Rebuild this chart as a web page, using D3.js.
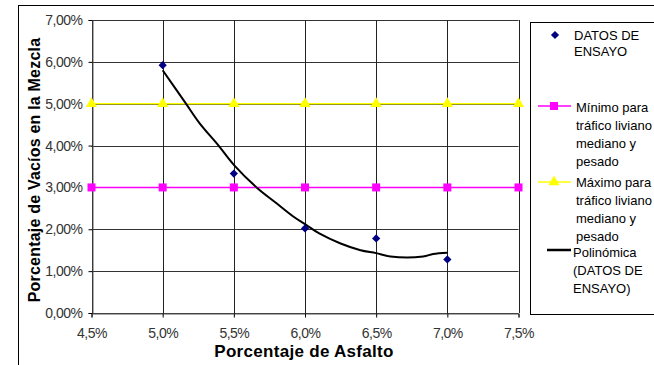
<!DOCTYPE html>
<html><head><meta charset="utf-8">
<script src="https://cdn.jsdelivr.net/npm/d3@7"></script>
<style>body{margin:0;background:#fff}svg{display:block;font-family:"Liberation Sans",Arial,sans-serif}</style>
</head><body><svg id="c" width="654" height="365"></svg>
<script>
const xTicks = [4.5,5.0,5.5,6.0,6.5,7.0,7.5];
const yTicks = [0,1,2,3,4,5,6,7];
const ensayoX = [5.0,5.5,6.0,6.5,7.0];
const ensayoY = [5.92,3.33,2.02,1.78,1.28];
const minimoX = [4.5,5.0,5.5,6.0,6.5,7.0,7.5];
const minimoY = [3,3,3,3,3,3,3];
const maximoX = [4.5,5.0,5.5,6.0,6.5,7.0,7.5];
const maximoY = [5,5,5,5,5,5,5];
const polyX = [5.0,5.16,5.26,5.39,5.5,5.66,5.8,5.92,6.01,6.1,6.25,6.39,6.5,6.6,6.83,6.9,7.0];
const polyY = [5.80,5.02,4.53,4.01,3.54,3.0,2.62,2.30,2.10,1.90,1.66,1.50,1.43,1.35,1.35,1.41,1.44];
const legendLabels = [["DATOS DE","ENSAYO"],["Mínimo para","tráfico liviano","mediano y","pesado"],["Máximo para","tráfico liviano","mediano y","pesado"],["Polinómica","(DATOS DE","ENSAYO)"]];

const svg = d3.select("#c");
const x = d3.scaleLinear().domain([4.5,7.5]).range([91.5,518.5]);
const y = d3.scaleLinear().domain([0,7]).range([313,20]);

// outer border
svg.append("rect").attr("x",18.5).attr("y",5.5).attr("width",640).attr("height",370).attr("fill","none").attr("stroke","#000").attr("stroke-width",1);

// grid
svg.append("g").selectAll("line").data(yTicks).join("line")
  .attr("x1",x(4.5)).attr("x2",x(7.5)).attr("y1",d=>Math.round(y(d))+0.5).attr("y2",d=>Math.round(y(d))+0.5)
  .attr("stroke","#333").attr("stroke-width",1);
svg.append("g").selectAll("line").data(xTicks).join("line")
  .attr("y1",y(0)).attr("y2",y(7)).attr("x1",d=>Math.round(x(d))+0.5).attr("x2",d=>Math.round(x(d))+0.5)
  .attr("stroke","#222").attr("stroke-width",1);

// axes
const ax = svg.append("g").attr("transform",`translate(0,${Math.round(y(0))+0.5})`)
  .call(d3.axisBottom(x).tickValues(xTicks).tickSize(4).tickPadding(11).tickFormat(d=>d3.format(".1f")(d).replace(".",",")+"%"));
const ay = svg.append("g").attr("transform",`translate(${Math.round(x(4.5))+0.5},0)`)
  .call(d3.axisLeft(y).tickValues(yTicks).tickSize(4).tickPadding(6).tickFormat(d=>d3.format(".2f")(d).replace(".",",")+"%"));
[ax,ay].forEach(a=>{a.select(".domain").attr("stroke","#555");a.selectAll(".tick line").attr("stroke","#000");
  a.selectAll("text").attr("font-size",14).attr("letter-spacing",-0.5).attr("fill","#333").attr("font-family","Liberation Sans, Arial, sans-serif");});

// axis titles
svg.append("text").attr("x",304).attr("y",357).attr("text-anchor","middle").attr("font-weight","bold").attr("font-size",17).attr("letter-spacing",0.3).text("Porcentaje de Asfalto");
svg.append("text").attr("transform","translate(40,170) rotate(-90)").attr("text-anchor","middle").attr("font-weight","bold").attr("font-size",16).attr("letter-spacing",0.2).text("Porcentaje de Vacíos en la Mezcla");

const line = d3.line().x(d=>x(d[0])).y(d=>y(d[1]));
// minimo
svg.append("path").datum(d3.zip(minimoX,minimoY)).attr("d",line).attr("fill","none").attr("stroke","#f0f").attr("stroke-width",1.5);
svg.append("g").selectAll("rect").data(d3.zip(minimoX,minimoY)).join("rect")
  .attr("x",d=>x(d[0])-4).attr("y",d=>y(d[1])-4).attr("width",8).attr("height",8).attr("fill","#f0f");
// maximo
svg.append("path").datum(d3.zip(maximoX,maximoY)).attr("d",line).attr("fill","none").attr("stroke","#ff0").attr("stroke-width",1.5);
const tri = d3.symbol().type(d3.symbolTriangle).size(55);
svg.append("g").selectAll("path").data(d3.zip(maximoX,maximoY)).join("path")
  .attr("d",tri).attr("transform",d=>`translate(${x(d[0])},${y(d[1])})`).attr("fill","#ff0");
// polynomial
svg.append("path").datum(d3.zip(polyX,polyY)).attr("d",line.curve(d3.curveCatmullRom.alpha(0.5))).attr("fill","none").attr("stroke","#000").attr("stroke-width",2);
// ensayo
const dia = d3.symbol().type(d3.symbolSquare).size(34);
svg.append("g").selectAll("path").data(d3.zip(ensayoX,ensayoY)).join("path")
  .attr("d",dia).attr("transform",d=>`translate(${x(d[0])},${y(d[1])}) rotate(45)`).attr("fill","#000080");

// legend
svg.append("rect").attr("x",530.5).attr("y",22.5).attr("width",130).attr("height",292).attr("fill","#fff").attr("stroke","#000");
const lg = svg.append("g").attr("font-size",13).attr("fill","#000");
const baselines = [[40,56],[112,130,148,165.5],[187,205,223,240.5],[257,275,293]];
const textX = [574,576,576,573];
legendLabels.forEach((lines,i)=>{
  lines.forEach((t,j)=>lg.append("text").attr("x",textX[i]).attr("y",baselines[i][j]).text(t));
});
svg.append("path").attr("d",dia).attr("transform",`translate(555,35) rotate(45)`).attr("fill","#000080");
svg.append("line").attr("x1",538).attr("x2",571).attr("y1",106).attr("y2",106).attr("stroke","#f0f").attr("stroke-width",1.5);
svg.append("rect").attr("x",550).attr("y",102).attr("width",8).attr("height",8).attr("fill","#f0f");
svg.append("line").attr("x1",538).attr("x2",571).attr("y1",182).attr("y2",182).attr("stroke","#ff0").attr("stroke-width",1.5);
svg.append("path").attr("d",tri).attr("transform",`translate(554,182)`).attr("fill","#ff0");
svg.append("line").attr("x1",547).attr("x2",571).attr("y1",250).attr("y2",250).attr("stroke","#000").attr("stroke-width",2.5);
</script></body></html>
